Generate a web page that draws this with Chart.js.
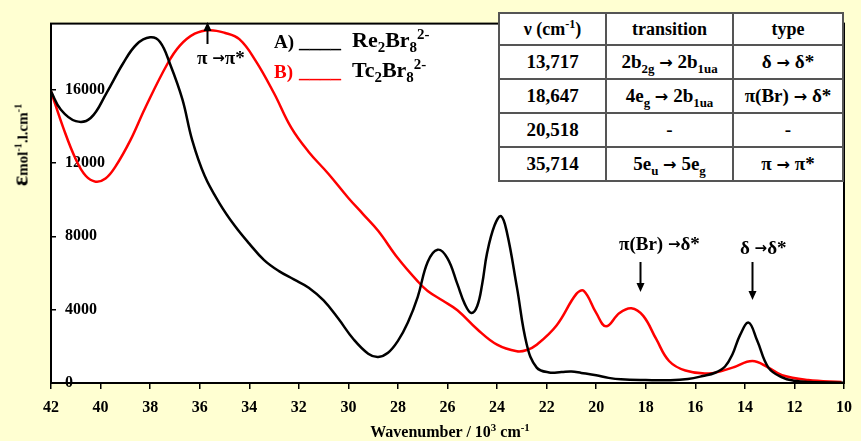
<!DOCTYPE html>
<html lang="en">
<head>
  <meta charset="UTF-8">
  <title>Re2Br8 / Tc2Br8 absorption spectra</title>
  <script src="https://cdn.jsdelivr.net/npm/chart.js"></script>
  <style>
    body { margin: 0; background: #FFFFD2; font-family: 'Liberation Serif', 'Times New Roman', serif; font-weight: bold; }
    #wrap { position: relative; width: 861px; height: 441px; overflow: hidden; }
    #spectrum { position: absolute; left: 0; top: 0; }
    .txt { position: absolute; line-height: 1; white-space: nowrap; color: #000; }
    sub, sup { font-size: 68%; line-height: 0; }
    .arr { font-family: 'DejaVu Sans', sans-serif; font-size: 85%; }
    table.assign {
      position: absolute; left: 498px; top: 12px; width: 346px; height: 170px;
      border-collapse: collapse; background: #fff; border: 2px solid #333;
    }
    table.assign td { border: 2px solid #555; text-align: center; padding: 0; font-size: 19px; }
    table.assign tr.head td { font-size: 18px; }
    .ytitle { position: absolute; left: 20px; top: 145px; transform: translate(-50%, -50%) rotate(-90deg); white-space: nowrap; font-size: 15px; }
    .xtitle { position: absolute; left: 450px; top: 432px; transform: translate(-50%, -50%); white-space: nowrap; font-size: 16px; }
  </style>
</head>
<body>
<div id="wrap">
  <canvas id="spectrum" width="861" height="441"></canvas>

  <!-- legend -->
  <div class="txt" style="left:274px; top:32px; font-size:19px;">A)</div>
  <div class="txt" style="left:299px; top:30px; font-size:21px;">____</div>
  <div class="txt" style="left:352px; top:29px; font-size:22px;">Re<sub>2</sub>Br<sub>8</sub><sup>2-</sup></div>
  <div class="txt" style="left:274px; top:62px; font-size:19px; color:#f00;">B)</div>
  <div class="txt" style="left:299px; top:60px; font-size:21px; color:#f00;">____</div>
  <div class="txt" style="left:352px; top:59px; font-size:22px;">Tc<sub>2</sub>Br<sub>8</sub><sup>2-</sup></div>

  <table class="assign">
    <tr class="head"><td style="width:105px">ν (cm<sup>-1</sup>)</td><td style="width:125px">transition</td><td>type</td></tr>
    <tr><td>13,717</td><td>2b<sub>2g</sub> <span class="arr">→</span> 2b<sub>1ua</sub></td><td>δ <span class="arr">→</span> δ*</td></tr>
    <tr><td>18,647</td><td>4e<sub>g</sub> <span class="arr">→</span> 2b<sub>1ua</sub></td><td>π(Br) <span class="arr">→</span> δ*</td></tr>
    <tr><td>20,518</td><td>-</td><td>-</td></tr>
    <tr><td>35,714</td><td>5e<sub>u</sub> <span class="arr">→</span> 5e<sub>g</sub></td><td>π <span class="arr">→</span> π*</td></tr>
  </table>

  <div class="ytitle"><span style="font-size:24px">ε</span>mol<sup>-1</sup>.l.cm<sup>-1</sup></div>
  <div class="xtitle">Wavenumber / 10<sup>3</sup> cm<sup>-1</sup></div>
</div>

<script>
  // wavenumber in 10^3 cm-1, epsilon in mol-1.l.cm-1
  const reWave = [42.0, 41.6, 41.0, 40.4, 39.75, 39.1, 38.55, 38.0, 37.6, 37.2, 36.7, 36.3, 35.8, 35.2, 34.6, 34.0, 33.4, 32.8, 32.2, 31.6,
                  31.0, 30.4, 29.8, 29.2, 28.8, 28.4, 28.0, 27.6, 27.2, 26.8, 26.4, 26.0, 25.6, 25.3, 25.04, 24.8, 24.6, 24.4, 24.1, 23.84,
                  23.6, 23.2, 22.8, 22.4, 21.9, 21.4, 21.0, 20.6, 20.0, 19.5, 19.0, 18.0, 17.0, 16.3, 15.7, 15.2, 14.8, 14.5, 14.2, 13.85,
                  13.5, 13.05, 12.5, 12.0, 11.4, 10.0];
  const reEps  = [15900, 14900, 14280, 14450, 15840, 17410, 18460, 18850, 18600, 17410, 15480, 13230, 11300, 9800, 8600, 7600, 6700, 6100, 5650, 5200,
                  4500, 3500, 2400, 1600, 1420, 1650, 2300, 3300, 4700, 6600, 7270, 6800, 5390, 4300, 3820, 4200, 5400, 7110, 8600, 9100,
                  8200, 5230, 2090, 840, 575, 600, 630, 550, 420, 280, 200, 160, 150, 220, 380, 560, 900, 1570, 2600, 3290,
                  2300, 840, 310, 120, 50, 20];

  const tcWave = [42.0, 41.5, 41.0, 40.6, 40.2, 39.8, 39.4, 38.8, 38.2, 37.3, 36.8, 36.2, 35.6, 35.0, 34.4, 33.74, 33.0, 32.3, 31.6, 30.8,
                  30.0, 29.4, 28.8, 28.0, 27.2, 26.8, 26.2, 25.6, 24.8, 24.0, 23.2, 22.8, 22.4, 21.6, 20.8, 20.5, 20.0, 19.6, 19.06, 18.58,
                  18.1, 17.58, 17.06, 16.4, 15.46, 14.5, 13.7, 13.05, 12.5, 11.45, 10.1];
  const tcEps  = [15900, 13900, 12200, 11300, 10980, 11150, 11800, 13230, 15000, 17410, 18400, 19050, 19240, 19100, 18750, 17570, 15800, 13910, 12600, 11400,
                  10090, 9200, 8300, 6800, 5540, 5020, 4500, 3970, 2930, 2090, 1730, 1800, 2090, 3140, 4860, 5020, 3820, 3090, 3820, 4080,
                  3660, 2400, 1200, 680, 520, 840, 1200, 840, 420, 160, 50];

  const xTicks = [42, 40, 38, 36, 34, 32, 30, 28, 26, 24, 22, 20, 18, 16, 14, 12, 10];
  const yTicks = [0, 4000, 8000, 12000, 16000];

  // band annotations: label parts, arrow wavenumber
  const bands = [
    { parts: ['π ', '→', 'π*'], at: 35.714, up: true },
    { parts: ['π(Br) ', '→', 'δ*'], at: 18.25, up: false },
    { parts: ['δ ', '→', 'δ*'], at: 13.717, up: false }
  ];

  const toPoints = (xs, ys) => xs.map((x, i) => ({ x: x, y: ys[i] }));

  Chart.defaults.font.family = "'Liberation Serif', 'Times New Roman', serif";
  Chart.defaults.color = '#000';

  const serifFont = 'bold 19px "Liberation Serif", "Times New Roman", serif';
  const arrowFont = 'bold 15px "DejaVu Sans", sans-serif';

  const framePlugin = {
    id: 'frame',
    beforeDraw(chart) {
      const a = chart.chartArea, ctx = chart.ctx;
      ctx.save();
      ctx.fillStyle = '#fff';
      ctx.fillRect(a.left, a.top, a.right - a.left, a.bottom - a.top);
      ctx.restore();
    },
    afterDraw(chart) {
      const a = chart.chartArea, ctx = chart.ctx, x = chart.scales.x;
      ctx.save();
      ctx.strokeStyle = '#000';
      ctx.lineWidth = 2;
      ctx.strokeRect(a.left, a.top, a.right - a.left, a.bottom - a.top);

      // annotations with arrows
      ctx.fillStyle = '#000';
      ctx.lineWidth = 2;
      const pos = [
        { tx: 197, ty: 64, y1: 44, y2: 22 },
        { tx: 619, ty: 250, y1: 262, y2: 292 },
        { tx: 740, ty: 254, y1: 262, y2: 300 }
      ];
      bands.forEach((b, i) => {
        const p = pos[i];
        let tx = p.tx;
        b.parts.forEach((t, k) => {
          ctx.font = k === 1 ? arrowFont : serifFont;
          ctx.fillText(t, tx, k === 1 ? p.ty - 1 : p.ty);
          tx += ctx.measureText(t).width;
        });
        const px = Math.round(x.getPixelForValue(b.at)) + 0.5;
        ctx.beginPath();
        ctx.moveTo(px, p.y1);
        ctx.lineTo(px, b.up ? p.y2 + 6 : p.y2 - 6);
        ctx.stroke();
        const d = b.up ? 1 : -1;
        ctx.beginPath();
        ctx.moveTo(px, p.y2);
        ctx.lineTo(px - 4, p.y2 + d * 9);
        ctx.lineTo(px + 4, p.y2 + d * 9);
        ctx.closePath();
        ctx.fill();
      });
      ctx.restore();
    }
  };

  const ctx = document.getElementById('spectrum').getContext('2d');
  const spectrumChart = new Chart(ctx, {
    type: 'line',
    data: {
      datasets: [
        {
          label: 'Re2Br8 2-',
          data: toPoints(reWave, reEps),
          borderColor: '#000',
          borderWidth: 2.5,
          pointRadius: 0,
          tension: 0.4,
          fill: false
        },
        {
          label: 'Tc2Br8 2-',
          data: toPoints(tcWave, tcEps),
          borderColor: '#f00',
          borderWidth: 2.5,
          pointRadius: 0,
          tension: 0.4,
          fill: false
        }
      ]
    },
    options: {
      responsive: false,
      animation: false,
      layout: { padding: { left: 0, right: 12, top: 8, bottom: 0 } },
      plugins: { legend: { display: false }, tooltip: { enabled: false } },
      scales: {
        x: {
          type: 'linear',
          min: 10,
          max: 42,
          reverse: true,
          afterFit: (s) => { s.height = 58; },
          afterBuildTicks: (s) => { s.ticks = xTicks.map(v => ({ value: v })); },
          border: { color: '#000', width: 2 },
          grid: { drawOnChartArea: false, color: '#000', tickLength: 6, lineWidth: 1.5 },
          ticks: { font: { size: 16, weight: 'bold' }, padding: 9, maxRotation: 0, autoSkip: false }
        },
        y: {
          min: 0,
          max: 19600,
          afterFit: (s) => { s.width = 51; },
          afterBuildTicks: (s) => { s.ticks = yTicks.map(v => ({ value: v })); },
          border: { color: '#000', width: 2 },
          grid: { drawOnChartArea: false, color: '#000', tickLength: -5, lineWidth: 1.5 },
          ticks: {
            mirror: true,
            padding: 14,
            font: { size: 16, weight: 'bold' },
            callback: (v) => String(v)
          }
        }
      }
    },
    plugins: [framePlugin]
  });
</script>
</body>
</html>
